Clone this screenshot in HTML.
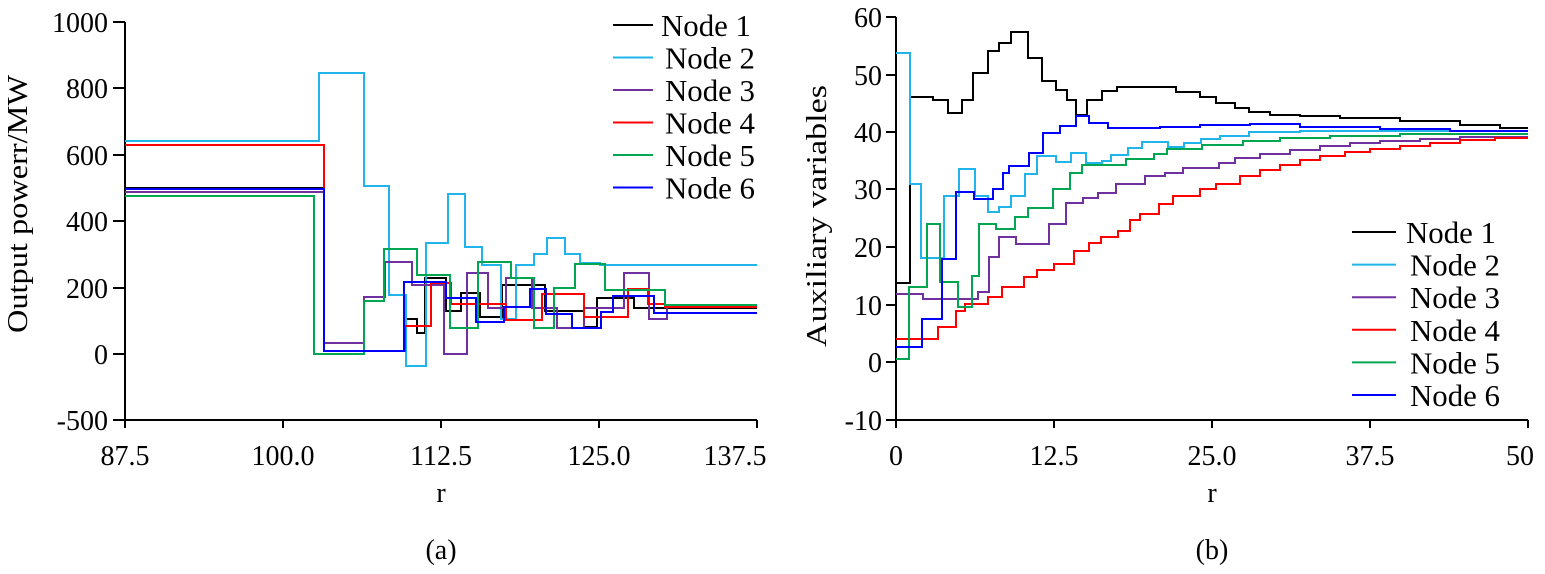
<!DOCTYPE html>
<html><head><meta charset="utf-8"><style>
body{margin:0;background:#fff}
svg{display:block}
text{font-family:"Liberation Serif",serif;font-size:28px;fill:#000}
.lg{font-size:31px}
</style></head><body>
<svg id="s" width="1545" height="574" xmlns="http://www.w3.org/2000/svg">
<g stroke="#000" stroke-width="2" fill="none">
<path d="M125,22V420H757"/>
<path d="M113,22H125M113,88H125M113,155H125M113,221H125M113,288H125M113,354H125M113,420H125"/>
<path d="M125,420v8M283,420v8M441,420v8M599,420v8M757,420v8"/>
<path d="M896,17V420H1528"/>
<path d="M886,17H896M886,75H896M886,132H896M886,189H896M886,247H896M886,305H896M886,362H896M886,420H896"/>
<path d="M896,420v8M1054,420v8M1212,420v8M1370,420v8M1528,420v8"/>
</g>
<g text-anchor="end">
<text x="108" y="32">1000</text><text x="108" y="98">800</text><text x="108" y="165">600</text><text x="108" y="231">400</text><text x="108" y="298">200</text><text x="108" y="364">0</text><text x="108" y="430">-500</text>
<text x="882" y="27">60</text><text x="882" y="85">50</text><text x="882" y="142">40</text><text x="882" y="199">30</text><text x="882" y="257">20</text><text x="882" y="315">10</text><text x="882" y="372">0</text><text x="882" y="430">-10</text>
</g>
<g text-anchor="middle">
<text x="125" y="465">87.5</text><text x="283" y="465">100.0</text><text x="441" y="465">112.5</text><text x="599" y="465">125.0</text><text x="735" y="465">137.5</text>
<text x="896" y="465">0</text><text x="1054" y="465">12.5</text><text x="1212" y="465">25.0</text><text x="1370" y="465">37.5</text><text x="1520" y="465">50</text>
<text x="441" y="502">r</text><text x="441" y="559">(a)</text>
<text x="1212" y="502">r</text><text x="1212" y="559">(b)</text>
<text transform="translate(27,204) rotate(-90)" textLength="258" lengthAdjust="spacingAndGlyphs">Output powerr/MW</text>
<text transform="translate(826,216) rotate(-90)" textLength="262" lengthAdjust="spacingAndGlyphs">Auxiliary variables</text>
</g>
<g id="series" fill="none" stroke-width="2"></g>
<g id="leg" stroke-width="2"></g>
</svg>
<script>
const S=[
['#000',125,[188,324,351,406,319,417,333,425,278,446,311,461,293,480,317,502,285,545,311,584,327,597,298,634,308,757]],
['#1fb4ea',125,[141,319,73,364,186,389,295,406,366,426,243,448,194,465,247,482,265,501,319,516,265,534,254,547,238,565,254,580,263,600,265,757]],
['#7030a0',125,[192,324,343,364,297,385,262,412,285,444,354,467,273,488,308,506,278,532,308,557,328,584,308,624,273,649,319,667,307,757]],
['#ff0000',125,[145,324,351,405,326,431,283,451,304,506,320,542,294,584,317,628,289,648,304,665,307,757]],
['#00a650',125,[196,314,354,364,301,384,249,417,275,450,328,478,262,511,278,534,328,554,288,575,264,605,290,665,305,757]],
['#0000ff',125,[189,324,351,404,282,446,298,476,322,504,307,530,289,546,314,572,328,601,312,613,296,654,313,757]],
['#000',896,[283,910,97,933,100,948,113,962,100,973,73,988,51,999,43,1011,32,1028,58,1042,81,1056,90,1067,100,1076,115,1087,100,1102,91,1117,87,1176,92,1200,97,1216,103,1235,108,1249,112,1270,115,1300,116,1340,118,1400,121,1460,125,1500,128,1528]],
['#1fb4ea',896,[53,910,184,921,258,944,196,959,169,975,196,988,212,999,207,1011,196,1025,174,1037,156,1056,162,1071,153,1086,163,1102,161,1111,155,1128,148,1142,142,1168,147,1184,143,1201,139,1220,136,1249,132,1300,131,1528]],
['#7030a0',896,[294,923,299,978,292,989,257,999,237,1016,244,1049,224,1066,203,1083,198,1098,193,1116,184,1145,176,1165,173,1183,168,1219,163,1235,158,1260,154,1290,150,1320,146,1350,143,1380,141,1420,139,1460,137,1528]],
['#ff0000',896,[339,938,327,956,311,965,304,988,297,1002,287,1024,277,1037,270,1054,264,1074,251,1089,243,1101,237,1118,231,1130,220,1140,214,1159,204,1173,196,1200,189,1216,184,1240,176,1260,170,1280,165,1300,160,1320,156,1345,152,1370,149,1400,146,1430,143,1460,140,1495,138,1528]],
['#00a650',896,[359,909,287,927,224,940,282,958,307,972,276,979,224,996,229,1015,217,1028,208,1053,189,1070,173,1082,165,1126,159,1154,154,1167,149,1202,145,1243,141,1280,138,1330,136,1400,134,1528]],
['#0000ff',896,[347,922,319,942,259,956,192,974,199,993,189,1003,173,1009,166,1029,153,1043,133,1060,126,1076,116,1089,123,1108,128,1160,127,1200,125,1250,124,1300,127,1380,129,1450,131,1528]]
];
const g=document.getElementById('series');
for(const [c,x0,a] of S){let d='M'+x0+','+a[0];for(let i=0;i<a.length;i+=2){d+='V'+a[i]+'H'+a[i+1];}
const p=document.createElementNS('http://www.w3.org/2000/svg','path');p.setAttribute('d',d);p.setAttribute('stroke',c);g.appendChild(p);}
const cols=['#000','#1fb4ea','#7030a0','#ff0000','#00a650','#0000ff'];
const L=document.getElementById('leg');let h='';
cols.forEach((c,i)=>{let y=25+i*32.5;h+=`<line x1="613" x2="653" y1="${y}" y2="${y}" stroke="${c}"/><text class="lg" x="${661+(i>0?4:0)}" y="${y+11}" textLength="90" lengthAdjust="spacingAndGlyphs">Node ${i+1}</text>`;
y=232+i*32.6;h+=`<line x1="1352" x2="1396" y1="${y}" y2="${y}" stroke="${c}"/><text class="lg" x="${1406+(i>0?4:0)}" y="${y+11}" textLength="90" lengthAdjust="spacingAndGlyphs">Node ${i+1}</text>`;});
L.innerHTML=h;
</script>
</body></html>
